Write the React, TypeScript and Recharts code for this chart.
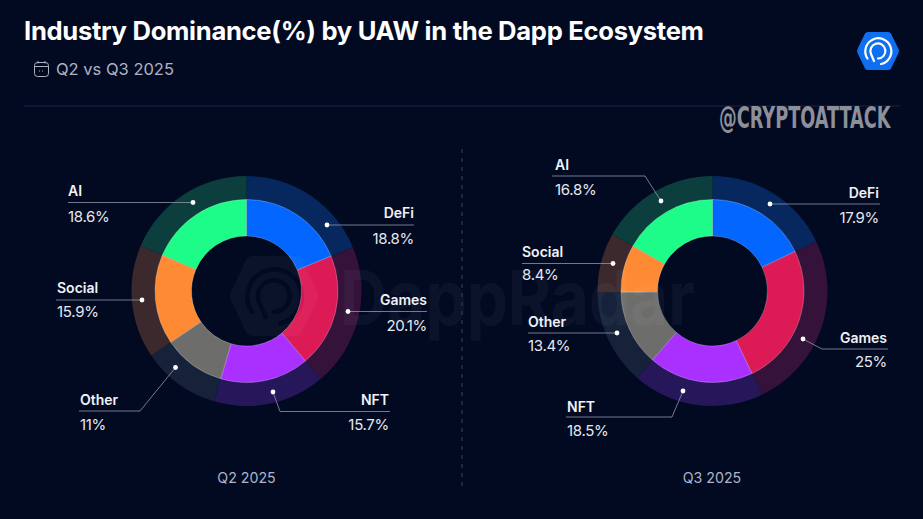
import React from 'react';
import { PieChart, Pie, Cell } from 'recharts';

const categories = ['DeFi', 'Games', 'NFT', 'Other', 'Social', 'AI'];
const q2Values = [18.8, 20.1, 15.7, 11, 15.9, 18.6];
const q3Values = [17.9, 25, 18.5, 13.4, 8.4, 16.8];

const innerColors = ['#0366ff', '#dc1a56', '#aa30ff', '#6d6d6b', '#ff8a34', '#1dfb88'];
const outerColors = ['#06285f', '#34123a', '#26175a', '#15223a', '#3b292d', '#0b3e3d'];

const font = 'Inter, "Noto Sans", sans-serif';

type Callout = {
  anchor: 'start' | 'end';
  textX: number;
  nameY: number;
  valueY: number;
  line: number[][];
};

// leader lines go from the dot outward, order follows categories
const q2Callouts: Callout[] = [
  { anchor: 'end', textX: 414, nameY: 218, valueY: 244, line: [[327, 225], [414, 225]] },
  { anchor: 'end', textX: 427, nameY: 305, valueY: 331, line: [[348, 311.5], [427, 311.5]] },
  { anchor: 'end', textX: 389, nameY: 405, valueY: 430, line: [[273, 392], [280, 411.5], [390, 411.5]] },
  { anchor: 'start', textX: 80, nameY: 405, valueY: 430, line: [[175.5, 367.5], [140, 411], [79, 411]] },
  { anchor: 'start', textX: 57, nameY: 293, valueY: 317, line: [[142, 300], [56, 300]] },
  { anchor: 'start', textX: 68, nameY: 196, valueY: 222, line: [[193, 202.5], [68, 202.5]] },
];

const q3Callouts: Callout[] = [
  { anchor: 'end', textX: 879, nameY: 198, valueY: 223, line: [[770, 204], [880, 204]] },
  { anchor: 'end', textX: 887, nameY: 343, valueY: 367, line: [[803, 339], [822, 349], [888, 349]] },
  { anchor: 'start', textX: 567, nameY: 412, valueY: 436, line: [[683, 391], [672, 417], [566, 417]] },
  { anchor: 'start', textX: 528, nameY: 327, valueY: 351, line: [[617, 333], [528, 333]] },
  { anchor: 'start', textX: 522, nameY: 257, valueY: 280, line: [[613, 263.5], [522, 263.5]] },
  { anchor: 'start', textX: 555, nameY: 170, valueY: 195, line: [[661, 201], [645, 176], [552, 176]] },
];

function toRows(values: number[]) {
  return categories.map((name, i) => ({ name, value: values[i] }));
}

function calloutLabel(callouts: Callout[], values: number[]) {
  return (props: any) => {
    const c = callouts[props.index];
    return (
      <g key={props.index} fontFamily={font}>
        <polyline
          points={c.line.map((p) => p.join(',')).join(' ')}
          fill="none"
          stroke="#8f95a6"
          strokeWidth={0.8}
        />
        <circle cx={c.line[0][0]} cy={c.line[0][1]} r={2.4} fill="#ffffff" />
        <text x={c.textX} y={c.nameY} textAnchor={c.anchor} fill="#f1f2f5" fontSize={14} fontWeight={600}>
          {categories[props.index]}
        </text>
        <text x={c.textX} y={c.valueY} textAnchor={c.anchor} fill="#e6e8ee" fontSize={15} letterSpacing={-0.3}>
          {values[props.index]}%
        </text>
      </g>
    );
  };
}

function Donut(cx: number, values: number[], callouts: Callout[], id: string) {
  const rows = toRows(values);
  return [
    <Pie
      key={id + '-outer'}
      data={rows}
      dataKey="value"
      nameKey="name"
      cx={cx}
      cy={291}
      startAngle={90}
      endAngle={-270}
      innerRadius={91}
      outerRadius={115}
      stroke="none"
      isAnimationActive={false}
      labelLine={false}
      label={calloutLabel(callouts, values)}
    >
      {rows.map((r, i) => (
        <Cell key={r.name} fill={outerColors[i]} />
      ))}
    </Pie>,
    <Pie
      key={id + '-inner'}
      data={rows}
      dataKey="value"
      nameKey="name"
      cx={cx}
      cy={291}
      startAngle={90}
      endAngle={-270}
      innerRadius={55}
      outerRadius={91.5}
      stroke="#ffffff"
      strokeOpacity={0.35}
      strokeWidth={0.7}
      isAnimationActive={false}
    >
      {rows.map((r, i) => (
        <Cell key={r.name} fill={innerColors[i]} />
      ))}
    </Pie>,
  ];
}

function Logo(props: { cx: number; cy: number; s: number; fill: string; ink: string; opacity?: number }) {
  const { cx, cy, s, fill, ink, opacity } = props;
  return (
    <g transform={`translate(${cx} ${cy}) scale(${s})`} opacity={opacity}>
      <path
        d="M-10 -19 L10 -19 Q12 -19 13 -17.5 L20.5 -2 Q21.5 0 20.5 2 L13 17.5 Q12 19 10 19 L-10 19 Q-12 19 -13 17.5 L-20.5 2 Q-21.5 0 -20.5 -2 L-13 -17.5 Q-12 -19 -10 -19 Z"
        fill={fill}
      />
      <g fill="none" stroke={ink} strokeWidth={2.2} strokeLinecap="round">
        <path d="M3 13 A13 13 0 1 0 -10.5 7.5" />
        <path d="M-4 10 L-7 3 A7.5 7.5 0 1 1 0 7.5" />
      </g>
    </g>
  );
}

export default function App() {
  return (
    <div style={{ position: 'absolute', left: 0, top: 0, width: 923, height: 519, background: '#020a22', overflow: 'hidden' }}>
      <style>{'body{margin:0;background:#020a22}'}</style>

      <div style={{ position: 'absolute', left: 24, top: 15, fontFamily: font, fontSize: 25.6, fontWeight: 700, color: '#ffffff', letterSpacing: -0.3, whiteSpace: 'nowrap' }}>
        Industry Dominance(%) by UAW in the Dapp Ecosystem
      </div>
      <div style={{ position: 'absolute', left: 56, top: 59, fontFamily: font, fontSize: 16.5, color: '#aeb3c2', whiteSpace: 'nowrap' }}>
        Q2 vs Q3 2025
      </div>

      <div style={{ position: 'absolute', left: 0, top: 0 }}>
        <PieChart width={923} height={519} margin={{ top: 0, right: 0, bottom: 0, left: 0 }}>
          {Donut(246.5, q2Values, q2Callouts, 'q2')}
          {Donut(712.5, q3Values, q3Callouts, 'q3')}
        </PieChart>
      </div>

      <svg width={923} height={519} style={{ position: 'absolute', left: 0, top: 0, pointerEvents: 'none' }}>
        {/* faint watermark */}
        <Logo cx={274} cy={296} s={2.1} fill="#ffffff" ink="#020a22" opacity={0.035} />
        <text x={340} y={325} fontFamily={font} fontSize={76} fontWeight={700} fill="#ffffff" opacity={0.035} textLength={355} lengthAdjust="spacingAndGlyphs">
          DappRadar
        </text>

        <line x1={24} y1={106} x2={900} y2={106} stroke="#1a2440" strokeWidth={1} />
        <line x1={462} y1={149} x2={462} y2={486} stroke="#3a4358" strokeWidth={1} strokeDasharray="4 5" />

        {/* calendar icon */}
        <g fill="none" stroke="#aeb3c2" strokeWidth={1}>
          <rect x={34.5} y={62.5} width={14} height={14} rx={3} />
          <line x1={34.5} y1={66.5} x2={48.5} y2={66.5} />
          <line x1={38} y1={61} x2={38} y2={63.5} />
          <line x1={45} y1={61} x2={45} y2={63.5} />
          <line x1={39} y1={71} x2={44} y2={71} strokeDasharray="1 2" />
        </g>

        <Logo cx={878} cy={51} s={1} fill="#0f6ff0" ink="#ffffff" />

        <text
          transform="translate(719 128) scale(0.636 1)"
          fontFamily='"DejaVu Sans Condensed", "DejaVu Sans", sans-serif'
          fontSize={31}
          fontWeight={700}
          fill="#8d8f99"
        >
          @CRYPTOATTACK
        </text>

        <text x={246.5} y={483} textAnchor="middle" fontFamily={font} fontSize={14.2} fill="#aeb5c8">Q2 2025</text>
        <text x={712} y={483} textAnchor="middle" fontFamily={font} fontSize={14.2} fill="#aeb5c8">Q3 2025</text>
      </svg>
    </div>
  );
}
